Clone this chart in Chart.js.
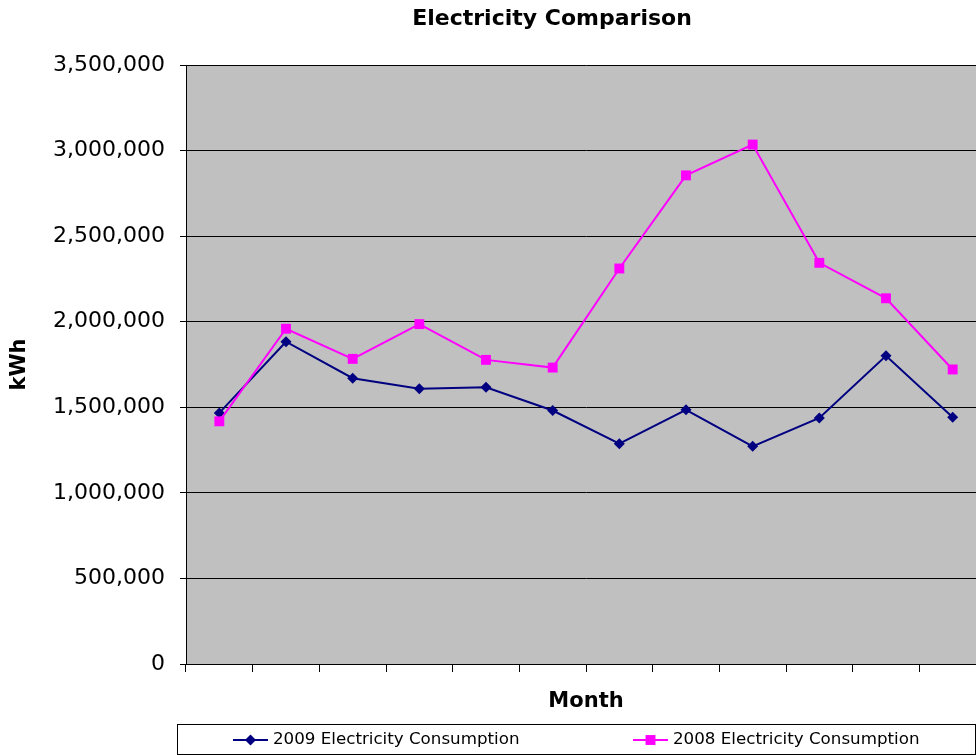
<!DOCTYPE html>
<html>
<head>
<meta charset="utf-8">
<title>Electricity Comparison</title>
<script src="https://cdn.jsdelivr.net/npm/chart.js@4.4.1/dist/chart.umd.min.js"></script>
<style>
  html, body { margin: 0; padding: 0; background: #fff; overflow: hidden; width: 976px; height: 755px; }
  #wrap { width: 1000px; height: 755px; }
</style>
</head>
<body>
<div id="wrap"><canvas id="chart" width="1000" height="755"></canvas></div>
<script>
// Monthly consumption (kWh)
const months = ['Jan', 'Feb', 'Mar', 'Apr', 'May', 'Jun', 'Jul', 'Aug', 'Sep', 'Oct', 'Nov', 'Dec'];
const consumption2009 = [1467000, 1883000, 1670000, 1608000, 1617000, 1481000, 1287000, 1485000, 1272000, 1438000, 1801000, 1442000];
const consumption2008 = [1418000, 1959000, 1783000, 1986000, 1777000, 1732000, 2311000, 2855000, 3035000, 2344000, 2137000, 1721000];
const kwhTicks = [0, 500000, 1000000, 1500000, 2000000, 2500000, 3000000, 3500000];
const seriesLabels = ['2009 Electricity Consumption', '2008 Electricity Consumption'];

Chart.defaults.font.family = "'DejaVu Sans', Verdana, sans-serif";
Chart.defaults.color = '#000';

// Grey plot area behind the lines
const plotBackground = {
  id: 'plotBackground',
  beforeDraw(chart) {
    const { ctx, chartArea: a } = chart;
    ctx.save();
    ctx.fillStyle = '#C0C0C0';
    ctx.fillRect(a.left, a.top, a.right - a.left, a.bottom - a.top);
    ctx.restore();
  }
};

// Centre the heading a little left of the plot centre
const titlePlacement = {
  id: 'titlePlacement',
  afterLayout(chart) {
    const t = chart.titleBlock;
    if (t) { t.left = 118; t.width = t.right - t.left; }
  }
};

// Boxed legend with line + marker samples, below the axis title
const boxedLegend = {
  id: 'boxedLegend',
  afterDraw(chart) {
    const { ctx, chartArea: a } = chart;
    const top = chart.scales.x.bottom + 8;
    const left = a.left - 9;
    const right = a.right - 11;
    const bottom = top + 30;
    const cy = (top + bottom) / 2 + 1;
    ctx.save();
    ctx.strokeStyle = '#000';
    ctx.lineWidth = 1;
    ctx.strokeRect(Math.round(left) + 0.5, Math.round(top) + 0.5, right - left, bottom - top);
    const starts = [left + 56, left + 456];
    ctx.font = "16.7px 'DejaVu Sans', Verdana, sans-serif";
    ctx.textBaseline = 'middle';
    ctx.textAlign = 'left';
    chart.data.datasets.forEach((ds, i) => {
      const x = starts[i];
      ctx.strokeStyle = ds.borderColor;
      ctx.fillStyle = ds.pointBackgroundColor;
      ctx.lineWidth = ds.borderWidth;
      ctx.beginPath();
      ctx.moveTo(x, cy);
      ctx.lineTo(x + 35, cy);
      ctx.stroke();
      Chart.helpers.drawPoint(ctx, { pointStyle: ds.pointStyle, radius: ds.pointRadius, rotation: 0, borderWidth: 0 }, x + 17.5, cy);
      ctx.fillStyle = '#000';
      ctx.fillText(ds.label, x + 40, cy);
    });
    ctx.restore();
  }
};

new Chart(document.getElementById('chart'), {
  type: 'line',
  data: {
    labels: months,
    datasets: [
      {
        label: seriesLabels[0],
        data: consumption2009,
        borderColor: '#000080',
        backgroundColor: '#000080',
        pointBackgroundColor: '#000080',
        borderWidth: 2,
        pointStyle: 'rectRot',
        pointRadius: 5.5,
        pointBorderWidth: 0,
        tension: 0,
        order: 1
      },
      {
        label: seriesLabels[1],
        data: consumption2008,
        borderColor: '#FF00FF',
        backgroundColor: '#FF00FF',
        pointBackgroundColor: '#FF00FF',
        borderWidth: 2,
        pointStyle: 'rect',
        pointRadius: 7,
        pointBorderWidth: 0,
        tension: 0,
        order: 0
      }
    ]
  },
  options: {
    responsive: false,
    animation: false,
    layout: { padding: { top: 0, right: 14, bottom: 39, left: 0 } },
    plugins: {
      legend: { display: false },
      tooltip: { enabled: false },
      title: {
        display: true,
        text: 'Electricity Comparison',
        font: { size: 22, weight: 'bold' },
        padding: { top: 6, bottom: 32.6 }
      }
    },
    scales: {
      x: {
        type: 'category',
        offset: true,
        grid: { display: true, drawOnChartArea: false, drawTicks: true, tickLength: 8, offset: true, color: '#000', lineWidth: 1 },
        border: { display: true, color: '#000', width: 1 },
        ticks: { display: false },
        title: { display: true, text: 'Month', font: { size: 21, weight: 'bold' }, padding: { top: 0, bottom: 2 } },
        afterFit(scale) { scale.height = 52; }
      },
      y: {
        min: 0,
        max: 3500000,
        grid: { color: '#000', lineWidth: 1, drawTicks: true, tickLength: 6 },
        border: { display: true, color: '#000', width: 1 },
        ticks: {
          padding: 15,
          font: { size: 22 },
          color: '#000',
          callback: (v) => Number(v).toLocaleString('en-US')
        },
        afterBuildTicks(scale) { scale.ticks = kwhTicks.map(v => ({ value: v })); },
        title: { display: true, text: 'kWh', font: { size: 21, weight: 'bold' }, padding: { top: 7, bottom: 0 } },
        afterFit(scale) { scale.width = 186; }
      }
    }
  },
  plugins: [plotBackground, titlePlacement, boxedLegend]
});
</script>
</body>
</html>
